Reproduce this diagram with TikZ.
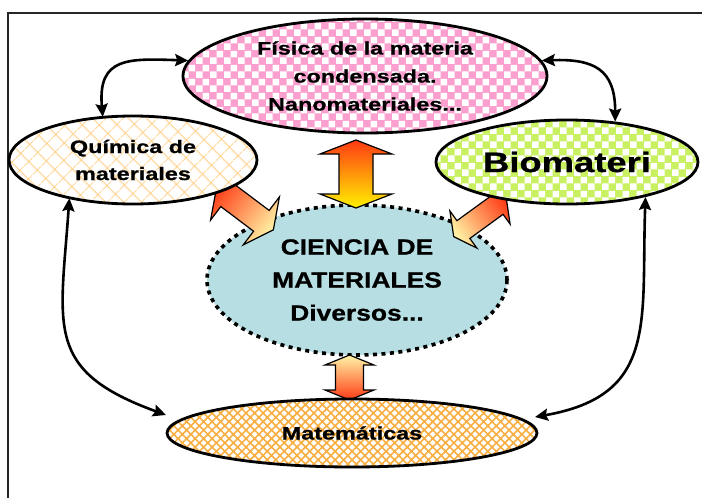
\documentclass[tikz,border=0pt]{standalone}
\usepackage{fontspec}
\usepackage{tikz}
\usetikzlibrary{shapes.geometric,arrows.meta,patterns.meta}
\newfontfamily\lblfont[FakeStretch=1.3,BoldFeatures={FakeBold=0.8}]{Liberation Sans}
\newfontfamily\bigfont[FakeStretch=1.2,BoldFeatures={FakeBold=0.8}]{Liberation Sans}
\definecolor{fispink}{HTML}{FB9FCF}
\definecolor{biogreen}{HTML}{C8F060}
\definecolor{quiorange}{HTML}{FFCF85}
\definecolor{matorange}{HTML}{F8AE40}
\definecolor{cmblue}{HTML}{B7DEE2}
\definecolor{arrred}{HTML}{FF3A14}
\definecolor{arryellow}{HTML}{FFF200}
\definecolor{arrpale}{HTML}{FFF4A6}
\tikzset{>={Stealth[length=13pt,width=12pt,inset=2pt]}}
\tikzset{topic/.style={ellipse, draw, line width=2.8pt, inner sep=0pt, align=center}}
\tikzset{link/.style={<->, line width=2.6pt}}
\tikzdeclarepattern{
  name=bubblechecks,
  type=uncolored,
  bottom left={(0pt,0pt)},
  top right={(14pt,14pt)},
  tile size={(14pt,14pt)},
  code={
    \fill (0pt,0pt) rectangle (7pt,7pt);
    \fill (7pt,7pt) rectangle (14pt,14pt);
  }
}
% centre, angle, half length, head length, head half width, shaft half width, tail colour, tip colour
\newcommand{\blockarrow}[8]{
    \pgfmathsetmacro{\shadeang}{#2+90}
    \begin{scope}[shift={#1},rotate=#2]
        \draw[line width=1.2pt, line join=miter, top color=#7, bottom color=#8, shading angle=\shadeang]
            (-#3,0) -- (-#3+#4,#5) -- (-#3+#4,#6) -- (#3-#4,#6) -- (#3-#4,#5) -- (#3,0)
            -- (#3-#4,-#5) -- (#3-#4,-#6) -- (-#3+#4,-#6) -- (-#3+#4,-#5) -- cycle;
    \end{scope}
}

\begin{document}
\begin{tikzpicture}[x=1pt,y=1pt]
    \useasboundingbox (0,0) rectangle (702,-498);
    \draw[line width=1.3pt, black!85] (702,-13) -- (8,-13) -- (8,-498);

    \node[topic, minimum width=300pt, minimum height=150pt, fill=cmblue,
          line width=3.6pt, dash pattern=on 4pt off 4.5pt,
          font=\bigfont\bfseries\fontsize{22}{33}\selectfont]
        (cm) at (357,-280) {CIENCIA DE\\MATERIALES\\Diversos...};

    \blockarrow{(356,-174)}{-90}{34}{14}{36}{17}{arrred}{arryellow}
    \blockarrow{(349.5,-377.5)}{90}{22.5}{10}{24.5}{14}{arrred}{arrpale}
    \blockarrow{(245,-208.5)}{-37}{35.5}{15}{30}{13}{arrred}{arrpale}
    \blockarrow{(480,-217.5)}{216}{32.5}{12}{23}{11}{arrred}{arrpale}

    \node[topic, minimum width=364pt, minimum height=114pt,
          preaction={fill=fispink}, pattern=bubblechecks, pattern color=white,
          font=\lblfont\bfseries\fontsize{18}{28}\selectfont]
        (fis) at (365,-76) {Física de la materia\\condensada.\\Nanomateriales...};
    \node[topic, minimum width=248pt, minimum height=88pt,
          preaction={fill=white}, pattern={Hatch[angle=45,distance=13pt,line width=1pt]}, pattern color=quiorange,
          font=\lblfont\bfseries\fontsize{18}{27}\selectfont]
        (qui) at (133,-160) {Química de\\materiales};
    \node[topic, minimum width=262pt, minimum height=84pt,
          preaction={fill=biogreen}, pattern=bubblechecks, pattern color=white,
          font=\lblfont\bfseries\fontsize{28}{32}\selectfont]
        (bio) at (567,-162) {Biomateri};
    \node[topic, minimum width=370pt, minimum height=68pt,
          preaction={fill=white}, pattern={Hatch[angle=45,distance=6pt,line width=1.6pt]}, pattern color=matorange,
          font=\lblfont\bfseries\fontsize{18}{22}\selectfont]
        (mat) at (352,-433) {Matemáticas};

    \coordinate (matL) at (166,-415);
    \coordinate (matR) at (535,-417);

    \draw[link] (qui.125) to[out=95,in=178,looseness=1.5] (fis.175);
    \draw[link] (fis.5) to[out=2,in=90,looseness=1.4] (bio.40);
    \draw[link] (qui.211) to[out=266,in=160,looseness=1.4] (matL);
    \draw[link] (bio.336) to[out=268,in=10,looseness=1.3] (matR);
\end{tikzpicture}
\end{document}
